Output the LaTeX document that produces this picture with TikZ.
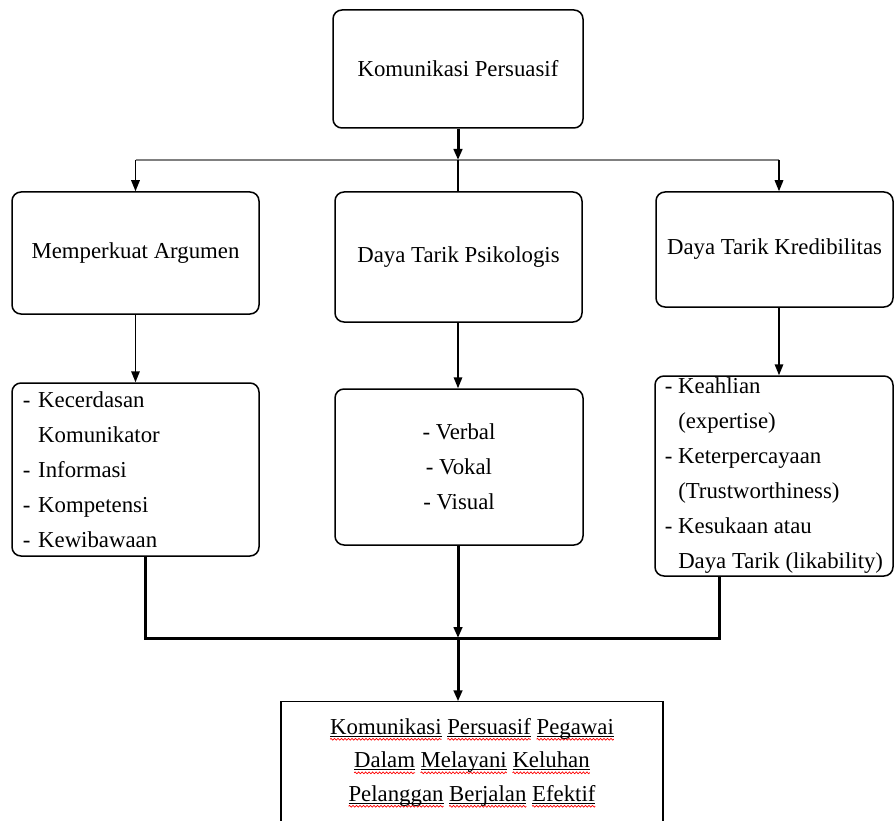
\documentclass[tikz,border=0pt]{standalone}
\usepackage{fontspec}
\setmainfont{Liberation Serif}
\usetikzlibrary{arrows.meta,decorations.pathmorphing}
\newsavebox\spkbox
\newlength\spkw
\newcommand\spk[1]{\sbox\spkbox{#1}\setlength\spkw{\wd\spkbox}%
  \rlap{\rule[-2.4pt]{\spkw}{0.8pt}}%
  \rlap{\tikz[baseline=0pt]{\useasboundingbox (0pt,0pt) rectangle (\spkw,0pt);
     \draw[red,line width=0.7pt,decorate,decoration={zigzag,segment length=3.5pt,amplitude=0.9pt}] (0pt,-5.2pt) -- (\spkw,-5.2pt);}}%
  \usebox\spkbox}
\newcommand\ind{\phantom{-}\ }
\tikzset{
  box/.style={draw, line width=1.5pt, rounded corners=9pt, inner sep=0pt,
    font=\fontsize{22.8}{35}\selectfont, align=center},
  conn/.style={line width=1.6pt},
  thk/.style={line width=3pt},
  grayline/.style={line width=2.6pt, draw={rgb,255:red,128;green,128;blue,128}},
  tip/.style={-{Triangle[length=11pt,width=8.5pt]}}
}
\begin{document}
\begin{tikzpicture}[x=1pt,y=-1pt]
\useasboundingbox (0,0) rectangle (894,821);
% boxes
\node[box, minimum width=250pt, minimum height=118pt] (top) at (458,69) {Komunikasi Persuasif};
\node[box, minimum width=247pt, minimum height=122pt] (l2) at (135.5,253) {Memperkuat Argumen};
\node[box, minimum width=247pt, minimum height=130pt] (m2) at (458.5,257) {Daya Tarik Psikologis};
\node[box, minimum width=237pt, minimum height=115pt] (r2) at (774.5,249.5) {Daya Tarik Kredibilitas};
\node[box, align=left, inner xsep=11pt, text width=225pt, minimum height=173pt] (l3) at (135.5,469.5)
  {- Kecerdasan\\ \ind Komunikator\\ - Informasi\\ - Kompetensi\\ - Kewibawaan};
\node[box, minimum width=248pt, minimum height=156pt] (m3) at (459,467)
  {- Verbal\\ - Vokal\\ - Visual};
\node[box, align=left, minimum width=238pt, minimum height=200pt] (r3) at (774,476)
  {- Keahlian\\ \ind (expertise)\\ - Keterpercayaan\\ \ind (Trustworthiness)\\ - Kesukaan atau\\ \ind Daya Tarik (likability)};
\node[inner sep=0pt, minimum width=382pt, minimum height=121pt, align=center,
  font=\fontsize{22.8}{33.5}\selectfont] (bot) at (472,762)
  {\spk{Komunikasi} \spk{Persuasif} \spk{Pegawai}\\ \spk{Dalam} \spk{Melayani} \spk{Keluhan}\\ \spk{Pelanggan} \spk{Berjalan} \spk{Efektif}};
\draw[conn] (bot.south west) -- (bot.north west) -- (bot.north east) -- (bot.south east);
% top distribution
\coordinate (hL) at (135.5,160);
\coordinate (hM) at (458,160);
\coordinate (hR) at (779,160);
\draw[grayline] (hL) -- (hR);
\draw[thk, tip] (top.south) -- (hM);
\draw[conn, tip] (hL) -- (l2.north);
\draw[conn] (hM) -- (hM |- m2.north);
\draw[conn, tip] (hR) -- (hR |- r2.north);
% second to third row
\draw[conn, tip] (l2.south) -- (l3.north);
\draw[conn, tip] (m2.south -| hM) -- (m3.north -| hM);
\draw[conn, tip] (r2.south -| hR) -- (r3.north -| hR);
% bottom collection
\coordinate (jL) at (145,638);
\coordinate (jM) at (458,638);
\coordinate (jR) at (719,638);
\draw[thk] (l3.south -| jL) -- (jL) -- (jR) -- (r3.south -| jR);
\draw[thk, tip] (m3.south -| jM) -- (jM);
\draw[thk, tip] (jM) -- (bot.north -| jM);
\end{tikzpicture}
\end{document}
